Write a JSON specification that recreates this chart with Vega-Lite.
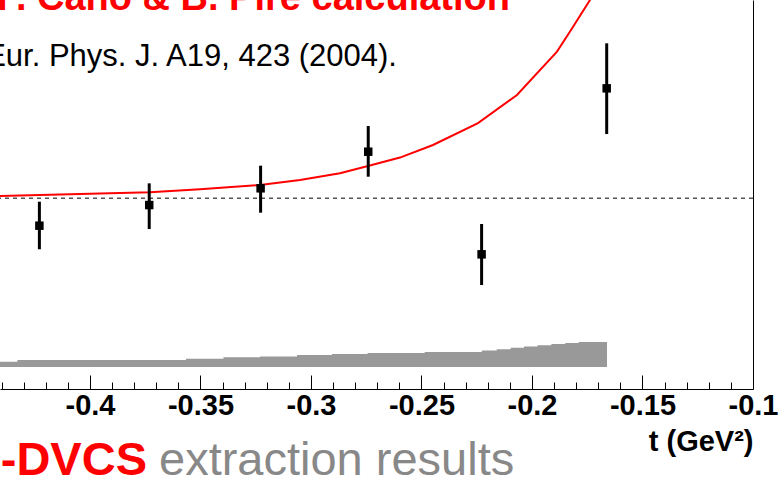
{
  "$schema": "https://vega.github.io/schema/vega-lite/v6.json",
  "width": 753,
  "height": 389,
  "autosize": {"type": "none"},
  "padding": {"left": 0, "top": 0, "right": 26, "bottom": 91},
  "background": "white",
  "config": {"view": {"stroke": null}, "font": "Liberation Sans"},
  "resolve": {"axis": {"x": "independent"}},
  "datasets": {
    "points": [
      {"t": -0.4229, "v": -0.276, "lo": -0.514, "hi": -0.034},
      {"t": -0.3732, "v": -0.068, "lo": -0.310, "hi": 0.151},
      {"t": -0.3228, "v": 0.101, "lo": -0.145, "hi": 0.329},
      {"t": -0.2741, "v": 0.470, "lo": 0.218, "hi": 0.729},
      {"t": -0.2228, "v": -0.565, "lo": -0.874, "hi": -0.259},
      {"t": -0.1662, "v": 1.109, "lo": 0.648, "hi": 1.563}
    ],
    "curve": [
      {"t": -0.4420, "v": 0.022},
      {"t": -0.37285, "v": 0.0605},
      {"t": -0.35023, "v": 0.091},
      {"t": -0.32308, "v": 0.134},
      {"t": -0.30498, "v": 0.185},
      {"t": -0.28688, "v": 0.252},
      {"t": -0.27421, "v": 0.326},
      {"t": -0.25973, "v": 0.411},
      {"t": -0.24480, "v": 0.538},
      {"t": -0.22443, "v": 0.759},
      {"t": -0.20679, "v": 1.042},
      {"t": -0.18869, "v": 1.479},
      {"t": -0.18235, "v": 1.697},
      {"t": -0.17376, "v": 2.0},
      {"t": -0.1700, "v": 2.15}
    ],
    "band": [
      {"t": -0.4420, "v": -1.648},
      {"t": -0.43285, "v": -1.631},
      {"t": -0.35656, "v": -1.618},
      {"t": -0.33959, "v": -1.604},
      {"t": -0.32308, "v": -1.596},
      {"t": -0.30633, "v": -1.580},
      {"t": -0.29050, "v": -1.570},
      {"t": -0.27439, "v": -1.560},
      {"t": -0.24855, "v": -1.550},
      {"t": -0.22271, "v": -1.535},
      {"t": -0.21597, "v": -1.522},
      {"t": -0.20964, "v": -1.508},
      {"t": -0.20362, "v": -1.495},
      {"t": -0.19751, "v": -1.482},
      {"t": -0.19122, "v": -1.469},
      {"t": -0.18493, "v": -1.459},
      {"t": -0.17887, "v": -1.449},
      {"t": -0.16606, "v": -1.449}
    ]
  },
  "layer": [
    {
      "data": {"name": "band"},
      "mark": {"type": "area", "interpolate": "step-after", "color": "#999999", "clip": true},
      "encoding": {
        "x": {
          "field": "t", "type": "quantitative",
          "scale": {"domain": [-0.44072, -0.1], "nice": false, "zero": false},
          "axis": {
            "orient": "bottom",
            "title": "t (GeV²)",
            "titleFont": "Liberation Sans", "titleFontSize": 29, "titleFontWeight": "bold", "titleColor": "black",
            "titleAnchor": "end", "titleAlign": "right", "titlePadding": 7,
            "values": [-0.45, -0.4, -0.35, -0.3, -0.25, -0.2, -0.15, -0.1],
            "labelExpr": "'' + datum.value",
            "labelFont": "Liberation Sans", "labelFontSize": 29, "labelFontWeight": "bold", "labelColor": "black",
            "labelFlush": false, "labelOverlap": false, "labelBound": false, "labelPadding": 16,
            "tickSize": -14, "tickColor": "black", "tickWidth": 1,
            "domainColor": "black", "domainWidth": 1, "grid": false
          }
        },
        "y": {
          "field": "v", "type": "quantitative",
          "scale": {"domain": [-1.923, 2.0], "nice": false, "zero": false},
          "axis": {"orient": "right", "title": null, "labels": false, "ticks": false, "grid": false, "domainColor": "black", "domainWidth": 1}
        },
        "y2": {"datum": -1.701}
      }
    },
    {
      "data": {"values": [{}]},
      "mark": {"type": "rule", "color": "#555555", "strokeWidth": 1.5, "strokeDash": [4, 4]},
      "encoding": {"y": {"datum": 0, "type": "quantitative"}}
    },
    {
      "data": {"name": "curve"},
      "mark": {"type": "line", "color": "#ff0000", "strokeWidth": 2, "clip": true},
      "encoding": {
        "x": {
          "field": "t", "type": "quantitative",
          "axis": {
            "orient": "bottom", "title": null, "labels": false, "domain": false, "grid": false,
            "values": [-0.44, -0.43, -0.42, -0.41, -0.39, -0.38, -0.37, -0.36, -0.34, -0.33, -0.32, -0.31, -0.29, -0.28, -0.27, -0.26, -0.24, -0.23, -0.22, -0.21, -0.19, -0.18, -0.17, -0.16, -0.14, -0.13, -0.12, -0.11],
            "tickSize": -7, "tickColor": "black", "tickWidth": 1
          }
        },
        "y": {"field": "v", "type": "quantitative"}
      }
    },
    {
      "data": {"name": "points"},
      "mark": {"type": "rule", "color": "black", "strokeWidth": 3},
      "encoding": {
        "x": {"field": "t", "type": "quantitative", "axis": null},
        "y": {"field": "lo", "type": "quantitative"},
        "y2": {"field": "hi"}
      }
    },
    {
      "data": {"name": "points"},
      "mark": {"type": "square", "color": "black", "filled": true, "opacity": 1, "size": 72},
      "encoding": {
        "x": {"field": "t", "type": "quantitative", "axis": null},
        "y": {"field": "v", "type": "quantitative"}
      }
    },
    {
      "data": {"values": [{"label": "F. Cano & B. Pire calculation", "t": -0.20995, "v": 1.904}]},
      "mark": {"type": "text", "align": "right", "baseline": "alphabetic", "font": "Liberation Sans", "fontSize": 38, "fontWeight": "bold", "color": "#ff0000"},
      "encoding": {
        "x": {"field": "t", "type": "quantitative", "axis": null},
        "y": {"field": "v", "type": "quantitative"},
        "text": {"field": "label"}
      }
    },
    {
      "data": {"values": [{"label": "Eur. Phys. J. A19, 423 (2004).", "t": -0.26109, "v": 1.334}]},
      "mark": {"type": "text", "align": "right", "baseline": "alphabetic", "font": "Liberation Sans", "fontSize": 31, "color": "black"},
      "encoding": {
        "x": {"field": "t", "type": "quantitative", "axis": null},
        "y": {"field": "v", "type": "quantitative"},
        "text": {"field": "label"}
      }
    },
    {
      "data": {"values": [{"label": "d-DVCS", "t": -0.37421, "v": -2.791}]},
      "mark": {"type": "text", "align": "right", "baseline": "alphabetic", "font": "Liberation Sans", "fontSize": 47, "fontWeight": "bold", "color": "#ff0000"},
      "encoding": {
        "x": {"field": "t", "type": "quantitative", "axis": null},
        "y": {"field": "v", "type": "quantitative"},
        "text": {"field": "label"}
      }
    },
    {
      "data": {"values": [{"label": "extraction results", "t": -0.36878, "v": -2.791}]},
      "mark": {"type": "text", "align": "left", "baseline": "alphabetic", "font": "Liberation Sans", "fontSize": 47, "color": "#888888"},
      "encoding": {
        "x": {"field": "t", "type": "quantitative", "axis": null},
        "y": {"field": "v", "type": "quantitative"},
        "text": {"field": "label"}
      }
    }
  ]
}
